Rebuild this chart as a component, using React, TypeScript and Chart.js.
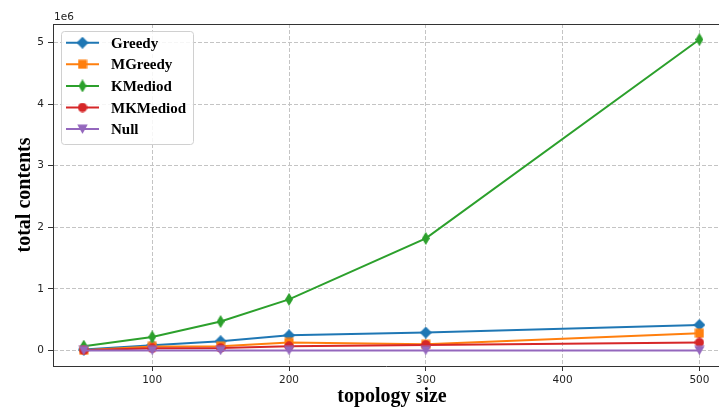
import React, { useEffect, useRef } from "react";
import { Chart, registerables } from "chart.js";

Chart.register(...registerables);

const topologySizes = [50, 100, 150, 200, 300, 500];
const greedy = [15000, 85000, 150000, 245000, 290000, 415000];
const mGreedy = [5000, 65000, 70000, 130000, 100000, 280000];
const kMediod = [70000, 220000, 470000, 830000, 1820000, 5050000];
const mkMediod = [5000, 35000, 40000, 70000, 90000, 130000];
const nullSeries = [0, 0, 0, 0, 0, 0];

const seriesNames = ["Greedy", "MGreedy", "KMediod", "MKMediod", "Null"];
const seriesColors = ["#1f77b4", "#ff7f0e", "#2ca02c", "#d62728", "#9467bd"];
const seriesMarkers = ["diamond", "square", "thindiamond", "circle", "triangledown"];
const seriesValues = [greedy, mGreedy, kMediod, mkMediod, nullSeries];

const xTicks = [100, 200, 300, 400, 500];
const yTicks = [0, 1000000, 2000000, 3000000, 4000000, 5000000];
const xLabel = "topology size";
const yLabel = "total contents";
const yOffsetText = "1e6";

function makeMarker(kind: string, color: string): HTMLCanvasElement {
  const c = document.createElement("canvas");
  let w = 12, h = 12;
  if (kind === "square") { w = 10; h = 10; }
  if (kind === "thindiamond") { w = 8; h = 13; }
  if (kind === "circle") { w = 10; h = 10; }
  if (kind === "triangledown") { w = 11; h = 10; }
  c.width = w; c.height = h;
  const g = c.getContext("2d")!;
  g.fillStyle = color;
  g.beginPath();
  if (kind === "diamond" || kind === "thindiamond") {
    g.moveTo(w / 2, 0); g.lineTo(w, h / 2); g.lineTo(w / 2, h); g.lineTo(0, h / 2); g.closePath();
  } else if (kind === "square") {
    g.rect(0.5, 0.5, w - 1, h - 1);
  } else if (kind === "circle") {
    g.arc(w / 2, h / 2, w / 2 - 0.3, 0, Math.PI * 2);
  } else {
    g.moveTo(0.3, 0.5); g.lineTo(w - 0.3, 0.5); g.lineTo(w / 2, h - 0.3); g.closePath();
  }
  g.fill();
  return c;
}

export default function App() {
  const ref = useRef<HTMLCanvasElement | null>(null);

  useEffect(() => {
    if (!ref.current) return;
    const markers = seriesNames.map((_, i) => makeMarker(seriesMarkers[i], seriesColors[i]));
    const tickFont = { family: "'DejaVu Sans'", size: 10.5 };

    const overlay = {
      id: "overlay",
      afterDraw(chart: any) {
        const { ctx, chartArea: a } = chart;
        ctx.save();
        // top spine
        ctx.strokeStyle = "#333";
        ctx.lineWidth = 1;
        ctx.beginPath();
        ctx.moveTo(a.left, Math.round(a.top) + 0.5);
        ctx.lineTo(a.right, Math.round(a.top) + 0.5);
        ctx.stroke();
        // offset text
        ctx.font = "10.5px 'DejaVu Sans'";
        ctx.fillStyle = "#222";
        ctx.textAlign = "left";
        ctx.textBaseline = "alphabetic";
        ctx.fillText(yOffsetText, a.left + 1, a.top - 4);
        // axis titles
        ctx.font = "bold 20px 'Liberation Serif'";
        ctx.fillStyle = "#000";
        ctx.textAlign = "center";
        ctx.fillText(xLabel, 392, 402);
        ctx.save();
        ctx.translate(30, 195);
        ctx.rotate(-Math.PI / 2);
        ctx.fillText(yLabel, 0, 0);
        ctx.restore();
        // legend
        const bx = 61.5, by = 31.5, bw = 132, bh = 113;
        ctx.beginPath();
        (ctx as any).roundRect(bx, by, bw, bh, 3);
        ctx.fillStyle = "rgba(255,255,255,0.85)";
        ctx.fill();
        ctx.strokeStyle = "#d0d0d0";
        ctx.lineWidth = 1;
        ctx.stroke();
        ctx.font = "bold 15px 'Liberation Serif'";
        ctx.textAlign = "left";
        seriesNames.forEach((name, i) => {
          const y = 42.7 + i * 21.6;
          ctx.strokeStyle = seriesColors[i];
          ctx.lineWidth = 2;
          ctx.beginPath();
          ctx.moveTo(66, y);
          ctx.lineTo(99, y);
          ctx.stroke();
          const m = markers[i];
          ctx.drawImage(m, 82.5 - m.width / 2, y - m.height / 2);
          ctx.fillStyle = "#000";
          ctx.fillText(name, 111, y + 5);
        });
        ctx.restore();
      },
    };

    const chart = new Chart(ref.current, {
      type: "line",
      data: {
        datasets: seriesNames.map((name, i) => ({
          label: name,
          data: topologySizes.map((x, j) => ({ x, y: seriesValues[i][j] })),
          borderColor: seriesColors[i],
          backgroundColor: seriesColors[i],
          borderWidth: 2,
          pointStyle: markers[i] as any,
          pointRadius: 6,
          order: seriesNames.length - 1 - i,
          tension: 0,
          fill: false,
        })),
      },
      options: {
        animation: false,
        responsive: false,
        devicePixelRatio: 1,
        layout: { autoPadding: false, padding: { left: 0, top: 24, right: 0, bottom: 0 } },
        plugins: { legend: { display: false }, tooltip: { enabled: false } },
        scales: {
          x: {
            type: "linear",
            min: 27.5,
            max: 514.3,
            afterBuildTicks: (s: any) => { s.ticks = xTicks.map((v) => ({ value: v })); },
            afterFit: (s: any) => { s.height = 42; s.paddingLeft = 0; s.paddingRight = 0; s.paddingTop = 0; s.paddingBottom = 0; },
            ticks: { font: tickFont, color: "#222", padding: 3, maxRotation: 0, autoSkip: false, callback: (v: any) => String(v) },
            grid: { color: "#c4c4c4", lineWidth: 1, tickColor: "#333", tickLength: 5, tickWidth: 1, tickBorderDash: [] } as any,
            border: { display: true, color: "#333", width: 1, dash: [4, 2] },
          },
          y: {
            type: "linear",
            min: -252500,
            max: 5302500,
            afterBuildTicks: (s: any) => { s.ticks = yTicks.map((v) => ({ value: v })); },
            afterFit: (s: any) => { s.width = 53; s.paddingLeft = 0; s.paddingRight = 0; s.paddingTop = 0; s.paddingBottom = 0; },
            ticks: { font: tickFont, color: "#222", padding: 4, autoSkip: false, callback: (v: any) => String(Number(v) / 1000000) },
            grid: { color: "#c4c4c4", lineWidth: 1, tickColor: "#333", tickLength: 5, tickWidth: 1, tickBorderDash: [] } as any,
            border: { display: true, color: "#333", width: 1, dash: [4, 2] },
          },
        },
      },
      plugins: [overlay],
    });
    return () => chart.destroy();
  }, []);

  return (
    <div style={{ position: "absolute", left: 0, top: 0, width: 719, height: 408, background: "#fff" }}>
      <canvas ref={ref} width={719} height={408} />
    </div>
  );
}
